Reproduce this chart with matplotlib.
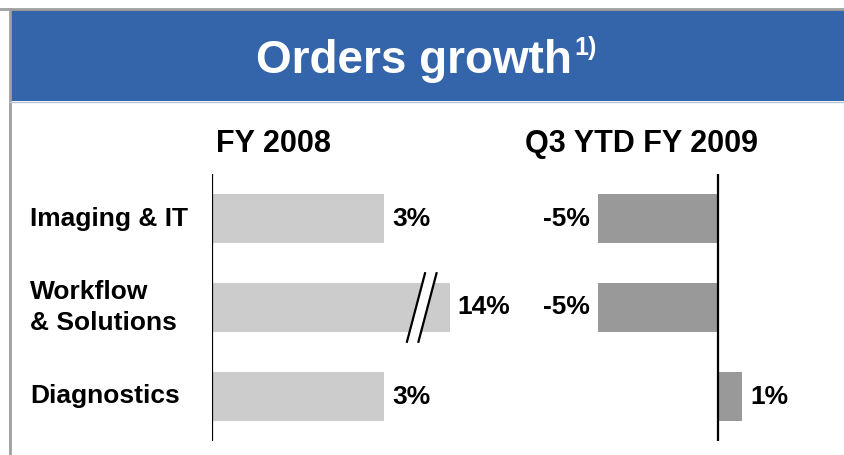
import matplotlib
matplotlib.use('Agg')
import matplotlib.pyplot as plt
from matplotlib.patches import Rectangle, Polygon
from matplotlib.lines import Line2D

plt.rcParams['font.family'] = ['Liberation Sans', 'DejaVu Sans']
plt.rcParams['font.weight'] = 'bold'

W, H = 845, 455

title = "Orders growth"
title_note = "1)"
categories = ["Imaging & IT", "Workflow\n& Solutions", "Diagnostics"]
headers = ["FY 2008", "Q3 YTD FY 2009"]
fy2008 = [3, 14, 3]
q3ytd2009 = [-5, -5, 1]
break_at = 4.15   # the 14% bar is drawn cut short with a break mark

light_grey = '#CCCCCC'
dark_grey = '#999999'
band_blue = '#3465AA'


def fx(px):
    return px / W


def fy(py):
    return 1 - py / H


fig = plt.figure(figsize=(W / 100, H / 100), dpi=100)

# slide frame and title band
fig.patches.append(Rectangle((fx(10), fy(101)), fx(835), 91 / H, transform=fig.transFigure,
                             facecolor=band_blue, edgecolor='none', zorder=0))
fig.lines.append(Line2D([0, 1], [fy(9), fy(9)], transform=fig.transFigure, color='#A0A0A0', lw=2))
fig.lines.append(Line2D([fx(10.5), fx(10.5)], [fy(9), 0], transform=fig.transFigure, color='#A0A0A0', lw=2))
fig.lines.append(Line2D([fx(10), 1], [fy(101.5), fy(101.5)], transform=fig.transFigure, color='#B8C4D8', lw=1))

t = fig.text(fx(256), fy(73), title, color='white', fontsize=33, fontweight='bold', va='baseline', ha='left')
fig.canvas.draw()
bb = t.get_window_extent()
fig.text(bb.x1 / W + fx(2), fy(55), title_note, color='white', fontsize=18, fontweight='bold',
         va='baseline', ha='left')

# panel geometry (pixels)
top, bottom = 174, 441
row_h = (bottom - top) / 3
bar_h = 0.54

# left panel: FY 2008
left_px, axis_px, right_px = 212, 212, 520
scale = 57.3
axL = fig.add_axes([fx(left_px), fy(bottom), (right_px - left_px) / W, (bottom - top) / H])
axL.set_xlim((left_px - axis_px) / scale, (right_px - axis_px) / scale)
axL.set_ylim(2.5, -0.5)
shown = [min(v, break_at) for v in fy2008]
axL.barh(range(len(categories)), shown, height=bar_h, color=light_grey, zorder=1)
axL.axvline(0, color='black', lw=1.6, zorder=3)
for i, v in enumerate(fy2008):
    axL.text(shown[i] + 0.14, i, f"{v}%", fontsize=19, fontweight='bold', va='center', ha='left')
    if v > break_at:
        # break mark
        cx = 3.56
        dy = 0.385
        slope = (17.6 / scale) / (66.7 / row_h)  # data-x per data-y
        gap = 11.5 / scale
        x_top, x_bot = cx + dy * slope, cx - dy * slope
        axL.add_patch(Polygon([[x_bot, i + dy], [x_top, i - dy], [x_top + gap, i - dy], [x_bot + gap, i + dy]],
                              closed=True, facecolor='white', edgecolor='none', zorder=2))
        axL.plot([x_bot, x_top], [i + dy, i - dy], color='black', lw=1.6, zorder=3)
        axL.plot([x_bot + gap, x_top + gap], [i + dy, i - dy], color='black', lw=1.6, zorder=3)
axL.axis('off')

# right panel: Q3 YTD FY 2009
left_px2, axis_px2, right_px2 = 530, 718, 820
scale2 = 24.0
axR = fig.add_axes([fx(left_px2), fy(bottom), (right_px2 - left_px2) / W, (bottom - top) / H])
axR.set_xlim((left_px2 - axis_px2) / scale2, (right_px2 - axis_px2) / scale2)
axR.set_ylim(2.5, -0.5)
axR.barh(range(len(categories)), q3ytd2009, height=bar_h, color=dark_grey, zorder=1)
axR.axvline(0, color='black', lw=1.6, zorder=3)
for i, v in enumerate(q3ytd2009):
    if v < 0:
        axR.text(v - 0.35, i, f"{v}%", fontsize=19, fontweight='bold', va='center', ha='right')
    else:
        axR.text(v + 0.35, i, f"{v}%", fontsize=19, fontweight='bold', va='center', ha='left')
axR.axis('off')

# column headers
fig.text(fx(273), fy(152), headers[0], fontsize=22, fontweight='bold', ha='center', va='baseline')
fig.text(fx(642), fy(152), headers[1], fontsize=22, fontweight='bold', ha='center', va='baseline')

# category labels
for i, c in enumerate(categories):
    fig.text(fx(30), fy(top + row_h * (i + 0.5)), c, fontsize=19, fontweight='bold',
             ha='left', va='center', linespacing=1.38)

fig.savefig('out.png', dpi=100)
